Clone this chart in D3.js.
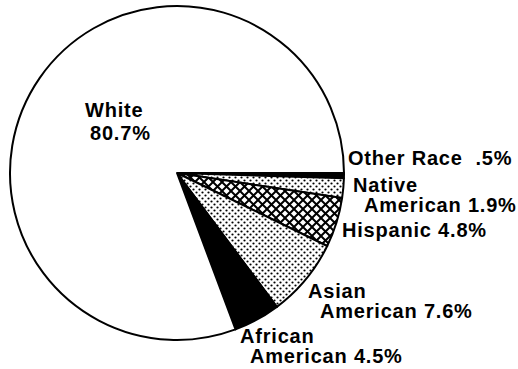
<!DOCTYPE html>
<html>
<head>
<meta charset="utf-8">
<script src="https://cdn.jsdelivr.net/npm/d3@7"></script>
<style>
	body { margin: 0; background: white; }
	text { font-family: 'Liberation Sans', Arial, sans-serif; font-weight: bold; font-size: 20px; letter-spacing: 0.8px; fill: black; white-space: pre; }
</style>
</head>
<body>
<div id="chart"></div>
<script>

// slices in drawing order, clockwise from 3 o'clock
var categories = ['Other Race', 'Native American', 'Hispanic', 'Asian American', 'African American', 'White'];
var percents = [0.5, 1.9, 4.8, 7.6, 4.5, 80.7];
var fillKinds = ['solid', 'dots', 'hatch', 'dots', 'solid', 'empty'];
var lineBreaks = [false, true, false, true, true, true];


function appendSVG(divInput, widthInput, heightInput) {
	return d3.select('#' + divInput)
		.append('svg')
			.attr('width', widthInput)
			.attr('height', heightInput);
};


function defineDots(svgInput, idInput) {
	var p = svgInput.select('defs').append('pattern')
		.attr('id', idInput)
		.attr('patternUnits', 'userSpaceOnUse')
		.attr('width', 6)
		.attr('height', 6);
	p.append('rect').attr('width', 6).attr('height', 6).style('fill', 'white');
	p.append('circle').attr('cx', 1.5).attr('cy', 1.5).attr('r', 1.1).style('fill', 'black');
	p.append('circle').attr('cx', 4.5).attr('cy', 4.5).attr('r', 1.1).style('fill', 'black');
};


function defineHatch(svgInput, idInput) {
	var p = svgInput.select('defs').append('pattern')
		.attr('id', idInput)
		.attr('patternUnits', 'userSpaceOnUse')
		.attr('width', 9)
		.attr('height', 9);
	p.append('rect').attr('width', 9).attr('height', 9).style('fill', 'white');
	p.append('path')
		.attr('d', 'M-1,-1L10,10M10,-1L-1,10')
		.style('stroke', 'black')
		.style('stroke-width', 2);
};


function fillFor(kind) {
	if ( kind=='solid' ) { return 'black'; }
	else if ( kind=='dots' ) { return 'url(#dots)'; }
	else if ( kind=='hatch' ) { return 'url(#hatch)'; }
	else { return 'white'; }
};


function pctText(v) {
	// .5% is printed without the leading zero
	var s = v < 1 ? String(v).replace(/^0/, '') : v.toFixed(1);
	return s + '%';
};


function appendLabel(svgInput, lines, x, y, x2, gap) {
	svgInput.append('text').attr('x', x).attr('y', y).text(lines[0]);
	if ( lines.length > 1 ) {
		svgInput.append('text').attr('x', x2).attr('y', y + gap).text(lines[1]);
	}
};


var svg = appendSVG('chart', 518, 369);
svg.append('defs');
defineDots(svg, 'dots');
defineHatch(svg, 'hatch');

var cx = 177, cy = 173, radius = 167;

var pie = d3.pie()
	.sort(null)
	.startAngle(Math.PI / 2)
	.endAngle(Math.PI / 2 + 2 * Math.PI);

var arc = d3.arc().innerRadius(0).outerRadius(radius);

var slices = pie(percents);

svg.append('g')
	.attr('transform', 'translate(' + cx + ',' + cy + ')')
	.selectAll('path')
	.data(slices)
	.enter()
	.append('path')
		.attr('d', arc)
		.style('fill', function(d, i) { return fillFor(fillKinds[i]); })
		.style('stroke', 'black')
		.style('stroke-width', 2)
		.style('stroke-linejoin', 'round');

// label text built from the data
var labels = categories.map(function(c, i) {
	var pct = pctText(percents[i]);
	if ( !lineBreaks[i] ) {
		var sep = c == 'Other Race' ? '  ' : ' ';
		return [c + sep + pct];
	}
	var words = c.split(' ');
	if ( words.length == 1 ) { return [c, pct]; }
	return [words[0], words.slice(1).join(' ') + ' ' + pct];
});

// hand placed, as in the printed figure
appendLabel(svg, labels[0], 348, 165, 348, 0);
appendLabel(svg, labels[1], 353, 192, 364, 20);
appendLabel(svg, labels[2], 342, 237, 342, 0);
appendLabel(svg, labels[3], 308, 298, 320, 20);
appendLabel(svg, labels[4], 240, 343, 250, 20);
appendLabel(svg, labels[5], 85, 117, 90, 23);

</script>
</body>
</html>
